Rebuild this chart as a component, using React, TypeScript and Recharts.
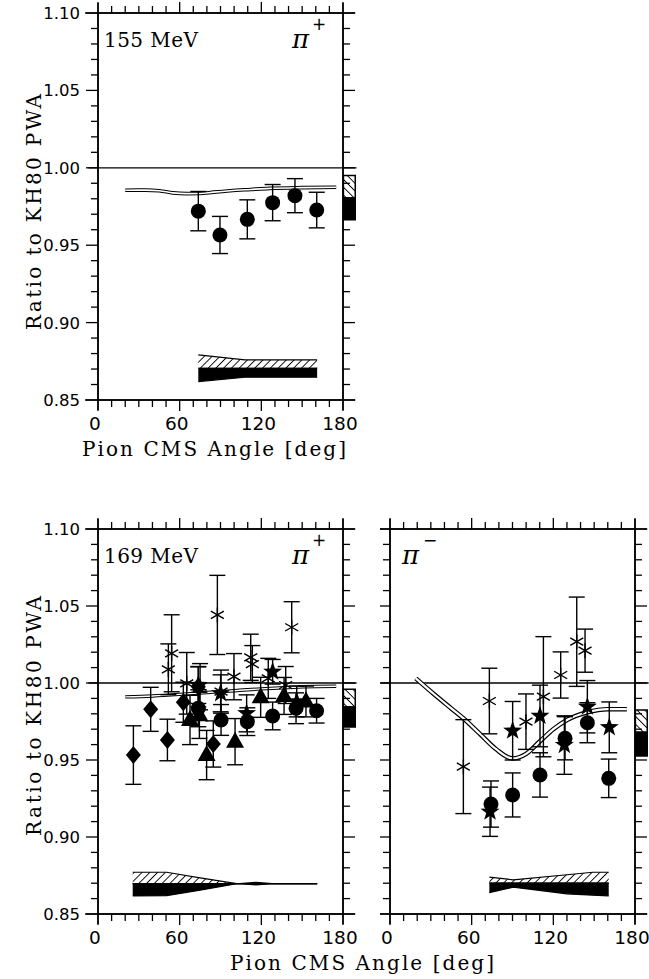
import React from 'react';
import {
  ComposedChart, XAxis, YAxis, Scatter, Line, Area, ErrorBar, ReferenceLine, ReferenceArea,
} from 'recharts';

// ---------- axes ----------
const X_TICKS = [0, 10, 20, 30, 40, 50, 60, 70, 80, 90, 100, 110, 120, 130, 140, 150, 160, 170, 180];
const X_LABELS = [0, 60, 120, 180];
const Y_TICKS = [0.85, 0.86, 0.87, 0.88, 0.89, 0.9, 0.91, 0.92, 0.93, 0.94, 0.95, 0.96, 0.97, 0.98, 0.99, 1.0,
  1.01, 1.02, 1.03, 1.04, 1.05, 1.06, 1.07, 1.08, 1.09, 1.1];
const Y_LABELS = [0.85, 0.9, 0.95, 1.0, 1.05, 1.1];

// ---------- 155 MeV, pi+ ----------
const p155Angle = [73.7, 89.6, 109.7, 128.3, 144.7, 160.7];
const p155Ratio = [0.972, 0.9566, 0.9667, 0.9775, 0.982, 0.9727];
const p155Err = [0.0127, 0.012, 0.0126, 0.0117, 0.011, 0.0115];
const p155TheoryAngle = [20, 35, 45, 55, 65, 75, 85, 97, 112, 126, 150, 175];
const p155TheoryRatio = [0.9855, 0.9856, 0.9852, 0.9838, 0.9833, 0.9834, 0.9843, 0.9852, 0.986, 0.9867, 0.9872, 0.9874];
const p155SysAngle = [73.7, 108, 161];
const p155SysMid = [0.8705, 0.8705, 0.8705];
const p155SysUp = [0.8791, 0.8759, 0.8759];
const p155SysDown = [0.8619, 0.8647, 0.8647];
const p155NormHatch = [0.9807, 0.995];
const p155NormBlack = [0.9665, 0.9807];

// ---------- 169 MeV, pi+ ----------
const p169pDiamondAngle = [26, 38.7, 51, 62.7, 73.7, 84.7];
const p169pDiamondRatio = [0.9532, 0.9829, 0.963, 0.9875, 0.9975, 0.9604];
const p169pDiamondErr = [0.019, 0.0143, 0.0135, 0.013, 0.013, 0.015];
const p169pCircleAngle = [73.7, 90.4, 109.7, 128.3, 145.5, 160.6];
const p169pCircleRatio = [0.9836, 0.976, 0.9749, 0.9786, 0.9836, 0.982];
const p169pCircleErr = [0.012, 0.01, 0.009, 0.009, 0.01, 0.008];
const p169pTriangleAngle = [67.6, 74.5, 79.8, 100.7, 119.5, 136.7, 152.8];
const p169pTriangleRatio = [0.976, 0.979, 0.9532, 0.9619, 0.9907, 0.9916, 0.988];
const p169pTriangleErr = [0.016, 0.015, 0.016, 0.015, 0.013, 0.012, 0.01];
const p169pStarAngle = [73.7, 90.1, 109.2, 128.3, 146];
const p169pStarRatio = [0.9987, 0.9933, 0.9803, 1.0073, 0.988];
const p169pStarErr = [0.012, 0.012, 0.012, 0.008, 0.01];
const p169pAstAngle = [51.7, 54.1, 65.2, 75, 87.7, 90.4, 99.9, 112.2, 113.4, 125.1, 137.9, 142.3];
const p169pAstRatio = [1.0089, 1.0193, 0.9998, 0.9976, 1.0442, 0.9944, 1.0041, 1.0167, 1.0123, 1.003, 0.9987, 1.0362];
const p169pAstErr = [0.0165, 0.025, 0.02, 0.015, 0.0257, 0.014, 0.015, 0.015, 0.012, 0.013, 0.012, 0.0166];
const p169pTheoryAngle = [20, 40, 60, 80, 100, 120, 140, 160, 175];
const p169pTheoryRatio = [0.991, 0.9916, 0.9926, 0.9938, 0.995, 0.9962, 0.9971, 0.9977, 0.9979];
const p169pSysAngle = [25.5, 50.4, 75, 101.9, 104, 116, 128, 161];
const p169pSysMid = [0.8697, 0.8697, 0.8697, 0.8697, 0.8697, 0.8697, 0.8697, 0.8697];
const p169pSysUp = [0.8771, 0.8771, 0.8735, 0.8697, 0.8697, 0.8705, 0.8697, 0.8697];
const p169pSysDown = [0.8617, 0.8619, 0.8655, 0.8697, 0.8697, 0.8689, 0.8697, 0.8697];
const p169pNormHatch = [0.9844, 0.996];
const p169pNormBlack = [0.9714, 0.9844];

// ---------- 169 MeV, pi- ----------
const p169mAstAngle = [53.9, 73, 99.9, 112.7, 125.4, 137.2, 143.3];
const p169mAstRatio = [0.9457, 0.9883, 0.9749, 0.9911, 1.0052, 1.0268, 1.021];
const p169mAstErr = [0.0305, 0.0213, 0.018, 0.039, 0.015, 0.029, 0.014];
const p169mStarAngle = [73.5, 90.1, 110.2, 128.1, 145, 161.1];
const p169mStarRatio = [0.9164, 0.969, 0.9786, 0.9597, 0.9846, 0.9712];
const p169mStarErr = [0.016, 0.019, 0.02, 0.019, 0.017, 0.0165];
const p169mCircleAngle = [74.2, 90.1, 110.2, 128.6, 145, 160.7];
const p169mCircleRatio = [0.9214, 0.9273, 0.9403, 0.9641, 0.9742, 0.9381];
const p169mCircleErr = [0.015, 0.0143, 0.0144, 0.014, 0.013, 0.0125];
const p169mTheoryAngle = [19, 32, 45, 54, 66, 78, 90, 100, 110, 120, 130, 145, 160, 174];
const p169mTheoryRatio = [1.003, 0.993, 0.9835, 0.977, 0.967, 0.957, 0.951, 0.954, 0.962, 0.97, 0.976, 0.981, 0.983, 0.983];
const p169mSysAngle = [73, 90.6, 130, 149, 160.7];
const p169mSysMid = [0.87, 0.87, 0.87, 0.87, 0.87];
const p169mSysUp = [0.8739, 0.8722, 0.8755, 0.8771, 0.8771];
const p169mSysDown = [0.8639, 0.8674, 0.8631, 0.8622, 0.8618];
const p169mNormHatch = [0.968, 0.9825];
const p169mNormBlack = [0.9526, 0.968];

// ---------- helpers ----------
const pts = (xs: number[], ys: number[], es: number[]) => xs.map((x, i) => ({ x, y: ys[i], e: es[i] }));
const crv = (xs: number[], ys: number[]) => xs.map((x, i) => ({ x, y: ys[i] }));
const rng = (xs: number[], lo: number[], hi: number[]) => xs.map((x, i) => ({ x, r: [lo[i], hi[i]] }));

const near = (arr: number[], v: number) => arr.some((a) => Math.abs(a - v) < 1e-6);
const SANS = "'DejaVu Sans', sans-serif";
const SERIF = "'DejaVu Serif', serif";

const LeftTick = (p: any) => {
  const major = near(Y_LABELS, p.payload.value);
  const len = major ? 12 : 7;
  return (
    <g>
      <line x1={p.x} x2={p.x - len} y1={p.y} y2={p.y} stroke="#000" strokeWidth={1.3} />
      {p.showLabel && major ? (
        <text x={p.x - 18} y={p.y} dy="0.36em" textAnchor="end" fontFamily={SANS} fontSize={16.5} fill="#000">
          {p.payload.value.toFixed(2)}
        </text>
      ) : null}
    </g>
  );
};
const RightTick = (p: any) => {
  const major = near(Y_LABELS, p.payload.value);
  const len = major ? 12 : 7;
  return <line x1={p.x} x2={p.x + len} y1={p.y} y2={p.y} stroke="#000" strokeWidth={1.3} />;
};
const BottomTick = (p: any) => {
  const major = near(X_LABELS, p.payload.value);
  const len = major ? 11 : 7;
  return (
    <g>
      <line x1={p.x} x2={p.x} y1={p.y} y2={p.y + len} stroke="#000" strokeWidth={1.3} />
      {major ? (
        <text x={p.x - 3} y={p.y + 30} textAnchor="middle" fontFamily={SANS} fontSize={18.5} fill="#000">
          {p.payload.value}
        </text>
      ) : null}
    </g>
  );
};
const TopTick = (p: any) => {
  const major = near(X_LABELS, p.payload.value);
  const len = major ? 11 : 7;
  return <line x1={p.x} x2={p.x} y1={p.y} y2={p.y - len} stroke="#000" strokeWidth={1.3} />;
};

// ---------- markers ----------
const CircleMark = (p: any) => <circle cx={p.cx} cy={p.cy} r={7.5} fill="#000" />;
const DiamondMark = (p: any) => (
  <path d={`M${p.cx},${p.cy - 9}L${p.cx + 7.5},${p.cy}L${p.cx},${p.cy + 9}L${p.cx - 7.5},${p.cy}Z`} fill="#000" />
);
const TriangleMark = (p: any) => (
  <path d={`M${p.cx},${p.cy - 10}L${p.cx + 9},${p.cy + 6}L${p.cx - 9},${p.cy + 6}Z`} fill="#000" />
);
const StarMark = (p: any) => {
  const d: string[] = [];
  for (let i = 0; i < 10; i++) {
    const r = i % 2 === 0 ? 10 : 4;
    const a = -Math.PI / 2 + (i * Math.PI) / 5;
    d.push(`${i === 0 ? 'M' : 'L'}${p.cx + r * Math.cos(a)},${p.cy + r * Math.sin(a)}`);
  }
  return <path d={d.join('') + 'Z'} fill="#000" />;
};
const AsteriskMark = (p: any) => {
  const s = 7.5;
  const dx = s * Math.cos(Math.PI / 6);
  const dy = s * Math.sin(Math.PI / 6);
  return (
    <g stroke="#000" strokeWidth={1.4}>
      <line x1={p.cx} y1={p.cy - s} x2={p.cx} y2={p.cy + s} />
      <line x1={p.cx - dx} y1={p.cy - dy} x2={p.cx + dx} y2={p.cy + dy} />
      <line x1={p.cx - dx} y1={p.cy + dy} x2={p.cx + dx} y2={p.cy - dy} />
    </g>
  );
};

type Series = { data: { x: number; y: number; e: number }[]; shape: any };

type PanelProps = {
  id: string;
  width: number;
  height: number;
  leftW: number;
  rightW: number;
  bottomH: number;
  showYLabels: boolean;
  series: Series[];
  theory: { x: number; y: number }[];
  tubeOuter: number;
  tubeInner: number;
  hatchBand: { x: number; r: number[] }[];
  blackBand: { x: number; r: number[] }[];
  normHatch: number[];
  normBlack: number[];
};

const Panel = (P: PanelProps) => {
  const ax = { xAxisId: 'b', yAxisId: 'l' } as const;
  return (
    <ComposedChart width={P.width} height={P.height} margin={{ top: 0, right: 0, bottom: 0, left: 0 }}>
      <defs>
        <pattern id={`hs-${P.id}`} patternUnits="userSpaceOnUse" width={5.5} height={5.5} patternTransform="rotate(45)">
          <rect width={5.5} height={5.5} fill="#fff" />
          <line x1={0} y1={0} x2={0} y2={5.5} stroke="#000" strokeWidth={1.8} />
        </pattern>
        <pattern id={`hb-${P.id}`} patternUnits="userSpaceOnUse" width={5.5} height={5.5} patternTransform="rotate(-45)">
          <rect width={5.5} height={5.5} fill="#fff" />
          <line x1={0} y1={0} x2={0} y2={5.5} stroke="#000" strokeWidth={1.8} />
        </pattern>
      </defs>
      <XAxis xAxisId="b" type="number" dataKey="x" domain={[0, 180]} ticks={X_TICKS} interval={0} allowDataOverflow
        height={P.bottomH} tickSize={0} tickMargin={0} tickLine={false}
        axisLine={{ stroke: '#000', strokeWidth: 1.5 }} tick={<BottomTick />} />
      <XAxis xAxisId="t" orientation="top" type="number" dataKey="x" domain={[0, 180]} ticks={X_TICKS} interval={0}
        allowDataOverflow height={13} tickSize={0} tickMargin={0} tickLine={false}
        axisLine={{ stroke: '#000', strokeWidth: 1.5 }} tick={<TopTick />} />
      <YAxis yAxisId="l" type="number" dataKey="y" domain={[0.85, 1.1]} ticks={Y_TICKS} interval={0} allowDataOverflow
        width={P.leftW} tickSize={0} tickMargin={0} tickLine={false}
        axisLine={{ stroke: '#000', strokeWidth: 1.5 }} tick={<LeftTick showLabel={P.showYLabels} />} />
      <YAxis yAxisId="r" orientation="right" type="number" dataKey="y" domain={[0.85, 1.1]} ticks={Y_TICKS}
        interval={0} allowDataOverflow width={P.rightW} tickSize={0} tickMargin={0} tickLine={false}
        axisLine={{ stroke: '#000', strokeWidth: 1.5 }} tick={<RightTick />} />

      {/* frame extensions */}
      <ReferenceLine {...ax} ifOverflow="visible" stroke="#000" strokeWidth={1.5}
        segment={[{ x: -9.5, y: 0.85 }, { x: 189, y: 0.85 }]} />
      <ReferenceLine {...ax} ifOverflow="visible" stroke="#000" strokeWidth={1.5}
        segment={[{ x: -9.5, y: 1.1 }, { x: 189, y: 1.1 }]} />
      <ReferenceLine {...ax} ifOverflow="visible" stroke="#000" strokeWidth={1.5}
        segment={[{ x: 0, y: 0.8435 }, { x: 0, y: 1.1065 }]} />
      <ReferenceLine {...ax} ifOverflow="visible" stroke="#000" strokeWidth={1.5}
        segment={[{ x: 180, y: 0.8435 }, { x: 180, y: 1.1065 }]} />
      {/* unity line */}
      <ReferenceLine {...ax} ifOverflow="visible" stroke="#000" strokeWidth={1.3}
        segment={[{ x: -7, y: 1.0 }, { x: 190, y: 1.0 }]} />

      {/* normalisation uncertainty boxes */}
      <ReferenceArea {...ax} ifOverflow="visible" x1={180.3} x2={189} y1={P.normHatch[0]} y2={P.normHatch[1]}
        fill={`url(#hb-${P.id})`} fillOpacity={1} stroke="#000" strokeWidth={1.5} />
      <ReferenceArea {...ax} ifOverflow="visible" x1={180.3} x2={189} y1={P.normBlack[0]} y2={P.normBlack[1]}
        fill="#000" fillOpacity={1} stroke="#000" strokeWidth={1.5} />

      {/* systematic bands */}
      <Area {...ax} data={P.hatchBand} dataKey="r" type="linear" stroke="#000" strokeWidth={1.2}
        fill={`url(#hs-${P.id})`} fillOpacity={1} isAnimationActive={false} dot={false} activeDot={false} />
      <Area {...ax} data={P.blackBand} dataKey="r" type="linear" stroke="#000" strokeWidth={1.2}
        fill="#000" fillOpacity={1} isAnimationActive={false} dot={false} activeDot={false} />

      {/* theory tube */}
      <Line {...ax} data={P.theory} dataKey="y" type="monotone" stroke="#000" strokeWidth={P.tubeOuter}
        dot={false} activeDot={false} isAnimationActive={false} />
      <Line {...ax} data={P.theory} dataKey="y" type="monotone" stroke="#fff" strokeWidth={P.tubeInner}
        dot={false} activeDot={false} isAnimationActive={false} />

      {P.series.map((s, i) => (
        <Scatter key={i} {...ax} data={s.data} dataKey="y" shape={s.shape} isAnimationActive={false}>
          <ErrorBar dataKey="e" direction="y" width={8} stroke="#000" strokeWidth={1.4} />
        </Scatter>
      ))}
    </ComposedChart>
  );
};

const TITLE = 'Pion CMS Angle [deg]';
const YTITLE = 'Ratio to KH80 PWA';

export default function App() {
  return (
    <div style={{ position: 'absolute', left: 0, top: 0, width: 649, height: 979, background: '#fff' }}>
      <div style={{ position: 'absolute', left: 0, top: 0 }}>
        <Panel id="a" width={380} height={470} leftW={98} rightW={37} bottomH={70} showYLabels
          series={[{ data: pts(p155Angle, p155Ratio, p155Err), shape: CircleMark }]}
          theory={crv(p155TheoryAngle, p155TheoryRatio)} tubeOuter={3.6} tubeInner={1.6}
          hatchBand={rng(p155SysAngle, p155SysMid, p155SysUp)}
          blackBand={rng(p155SysAngle, p155SysDown, p155SysMid)}
          normHatch={p155NormHatch} normBlack={p155NormBlack} />
      </div>
      <div style={{ position: 'absolute', left: 0, top: 516 }}>
        <Panel id="b" width={380} height={463} leftW={98} rightW={37} bottomH={65} showYLabels
          series={[
            { data: pts(p169pAstAngle, p169pAstRatio, p169pAstErr), shape: AsteriskMark },
            { data: pts(p169pDiamondAngle, p169pDiamondRatio, p169pDiamondErr), shape: DiamondMark },
            { data: pts(p169pTriangleAngle, p169pTriangleRatio, p169pTriangleErr), shape: TriangleMark },
            { data: pts(p169pCircleAngle, p169pCircleRatio, p169pCircleErr), shape: CircleMark },
            { data: pts(p169pStarAngle, p169pStarRatio, p169pStarErr), shape: StarMark },
          ]}
          theory={crv(p169pTheoryAngle, p169pTheoryRatio)} tubeOuter={3.4} tubeInner={1.4}
          hatchBand={rng(p169pSysAngle, p169pSysMid, p169pSysUp)}
          blackBand={rng(p169pSysAngle, p169pSysDown, p169pSysMid)}
          normHatch={p169pNormHatch} normBlack={p169pNormBlack} />
      </div>
      <div style={{ position: 'absolute', left: 380, top: 516 }}>
        <Panel id="c" width={269} height={463} leftW={10} rightW={14} bottomH={65} showYLabels={false}
          series={[
            { data: pts(p169mAstAngle, p169mAstRatio, p169mAstErr), shape: AsteriskMark },
            { data: pts(p169mCircleAngle, p169mCircleRatio, p169mCircleErr), shape: CircleMark },
            { data: pts(p169mStarAngle, p169mStarRatio, p169mStarErr), shape: StarMark },
          ]}
          theory={crv(p169mTheoryAngle, p169mTheoryRatio)} tubeOuter={4.6} tubeInner={2.2}
          hatchBand={rng(p169mSysAngle, p169mSysMid, p169mSysUp)}
          blackBand={rng(p169mSysAngle, p169mSysDown, p169mSysMid)}
          normHatch={p169mNormHatch} normBlack={p169mNormBlack} />
      </div>
      <svg width={649} height={979} style={{ position: 'absolute', left: 0, top: 0, pointerEvents: 'none' }}>
        <g fontFamily={SERIF} fontSize={20} fill="#000">
          <text x={82} y={456} textLength={264} lengthAdjust="spacing">{TITLE}</text>
          <text x={230} y={970} textLength={264} lengthAdjust="spacing">{TITLE}</text>
          <text transform="translate(41,330) rotate(-90)" textLength={236} lengthAdjust="spacing">{YTITLE}</text>
          <text transform="translate(41,836) rotate(-90)" textLength={240} lengthAdjust="spacing">{YTITLE}</text>
          <text x={104} y={47} textLength={94} lengthAdjust="spacing">155 MeV</text>
          <text x={104} y={563} textLength={94} lengthAdjust="spacing">169 MeV</text>
        </g>
        <g fill="#000">
          <text x={292} y={48} fontFamily={SERIF} fontStyle="italic" fontSize={26}>π</text>
          <text x={312} y={30} fontFamily={SANS} fontSize={17}>+</text>
          <text x={292} y={564} fontFamily={SERIF} fontStyle="italic" fontSize={26}>π</text>
          <text x={312} y={546} fontFamily={SANS} fontSize={17}>+</text>
          <text x={402} y={564} fontFamily={SERIF} fontStyle="italic" fontSize={26}>π</text>
          <text x={423} y={546} fontFamily={SANS} fontSize={17}>−</text>
        </g>
      </svg>
    </div>
  );
}
